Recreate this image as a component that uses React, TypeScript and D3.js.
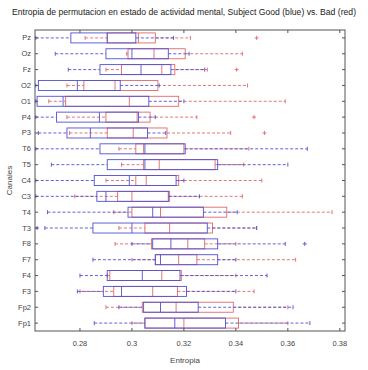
import React from "react";
import * as d3 from "d3";

const title =
  "Entropia de permutacion en estado de actividad mental, Subject Good (blue) vs. Bad (red)";

const channels = [
  "Pz", "Oz", "Fz", "O2", "O1", "P4", "P3", "T6", "T5", "C4",
  "C3", "T4", "T3", "F8", "F7", "F4", "F3", "Fp2", "Fp1",
];

// [lower whisker, q1, median, q3, upper whisker]
const blueStats = [
  [0.263, 0.2765, 0.2905, 0.3015, 0.316],
  [0.2705, 0.29, 0.3, 0.314, 0.322],
  [0.2755, 0.2877, 0.3035, 0.315, 0.328],
  [0.263, 0.264, 0.279, 0.2955, 0.3105],
  [0.263, 0.2635, 0.2735, 0.3065, 0.32],
  [0.263, 0.271, 0.2875, 0.3025, 0.309],
  [0.264, 0.275, 0.284, 0.306, 0.313],
  [0.263, 0.2877, 0.305, 0.3205, 0.3675],
  [0.269, 0.2905, 0.305, 0.333, 0.36],
  [0.263, 0.2855, 0.299, 0.317, 0.32],
  [0.263, 0.2865, 0.29, 0.314, 0.326],
  [0.2675, 0.2985, 0.308, 0.3275, 0.3405],
  [0.2665, 0.285, 0.3, 0.329, 0.348],
  [0.3, 0.308, 0.315, 0.333, 0.359],
  [0.285, 0.309, 0.311, 0.333, 0.34],
  [0.28, 0.2905, 0.304, 0.3185, 0.352],
  [0.279, 0.289, 0.296, 0.321, 0.34],
  [0.295, 0.3045, 0.311, 0.3255, 0.362],
  [0.2855, 0.305, 0.3165, 0.336, 0.3685],
];

const redStats = [
  [0.282, 0.2905, 0.3025, 0.309, 0.3225],
  [0.298, 0.2985, 0.3085, 0.3205, 0.3425],
  [0.29, 0.296, 0.3115, 0.3165, 0.329],
  [0.275, 0.2815, 0.2935, 0.31, 0.3445],
  [0.268, 0.2745, 0.299, 0.318, 0.359],
  [0.275, 0.29, 0.302, 0.307, 0.325],
  [0.276, 0.2905, 0.3005, 0.3135, 0.338],
  [0.295, 0.3015, 0.3045, 0.32, 0.345],
  [0.296, 0.3045, 0.3105, 0.332, 0.343],
  [0.29, 0.3015, 0.3055, 0.318, 0.35],
  [0.278, 0.2945, 0.3, 0.3145, 0.3425],
  [0.293, 0.3, 0.311, 0.3365, 0.377],
  [0.295, 0.305, 0.3145, 0.331, 0.348],
  [0.2935, 0.3075, 0.3215, 0.328, 0.34],
  [0.3, 0.309, 0.318, 0.325, 0.363],
  [0.2905, 0.2915, 0.3115, 0.319, 0.34],
  [0.28, 0.293, 0.308, 0.3175, 0.347],
  [0.29, 0.304, 0.317, 0.339, 0.36],
  [0.3, 0.305, 0.32, 0.341, 0.36],
];

const blueOutliers = [[], [], [], [], [], [], [], [], [], [], [], [], [0.2635], [0.3665], [], [], [], [], []];
const redOutliers = [[0.348], [], [0.3403], [], [], [0.347], [0.351], [], [], [], [], [], [], [], [], [], [], [], []];

const xTicks = [0.28, 0.3, 0.32, 0.34, 0.36, 0.38];

const W = 368;
const H = 370;
const left = 35;
const right = 345;
const top = 30;
const bottom = 331;
const font = "'Liberation Sans Narrow', 'Arial Narrow', 'Liberation Sans', Arial, sans-serif";

const xScale = d3.scaleLinear().domain([0.2627, 0.382]).range([left, right]);
const yScale = d3.scaleBand().domain(channels).range([top, bottom]);

function Box({ s, outs, y, color }) {
  const [lw, q1, med, q3, uw] = s;
  const x = xScale;
  const h = 5;
  return (
    <g stroke={color} fill="none" strokeWidth={0.9}>
      <line x1={x(lw)} x2={x(q1)} y1={y} y2={y} strokeDasharray="3,2" />
      <line x1={x(q3)} x2={x(uw)} y1={y} y2={y} strokeDasharray="3,2" />
      <line x1={x(lw)} x2={x(lw)} y1={y - 2} y2={y + 2} />
      <line x1={x(uw)} x2={x(uw)} y1={y - 2} y2={y + 2} />
      <rect x={x(q1)} y={y - h} width={x(q3) - x(q1)} height={2 * h} />
      <line x1={x(med)} x2={x(med)} y1={y - h} y2={y + h} />
      {outs.map((o, i) => (
        <g key={i}>
          <line x1={x(o) - 2} x2={x(o) + 2} y1={y} y2={y} />
          <line x1={x(o)} x2={x(o)} y1={y - 2} y2={y + 2} />
        </g>
      ))}
    </g>
  );
}

export default function App() {
  const fmt = (d) => (d === 0.3 ? "0.3" : d3.format(".2f")(d));
  return (
    <svg width={W} height={H} style={{ position: "absolute", left: 0, top: 0, background: "#fff" }}>
      <defs>
        <clipPath id="plot">
          <rect x={left} y={top} width={right - left} height={bottom - top} />
        </clipPath>
      </defs>
      <rect x={0} y={0} width={W} height={H} fill="#fff" />
      <text x={184} y={15} textAnchor="middle" fontFamily={font} fontSize={8.5} fill="#222"
        textLength={344} lengthAdjust="spacingAndGlyphs">
        {title}
      </text>
      <g clipPath="url(#plot)">
        {channels.map((c, i) => {
          const y = yScale(c) + yScale.bandwidth() / 2;
          return (
            <g key={c}>
              <Box s={redStats[i]} outs={redOutliers[i]} y={y} color="#e06868" />
              <Box s={blueStats[i]} outs={blueOutliers[i]} y={y} color="#5050d4" />
            </g>
          );
        })}
      </g>
      <rect x={left} y={top} width={right - left} height={bottom - top} fill="none" stroke="#555" strokeWidth={1} />
      {channels.map((c) => {
        const y = yScale(c) + yScale.bandwidth() / 2;
        return (
          <g key={c}>
            <line x1={left} x2={left + 3} y1={y} y2={y} stroke="#555" />
            <line x1={right - 3} x2={right} y1={y} y2={y} stroke="#555" />
            <text x={left - 4} y={y + 2.5} textAnchor="end" fontFamily={font} fontSize={7.5} fill="#444">
              {c}
            </text>
          </g>
        );
      })}
      {xTicks.map((t) => (
        <g key={t}>
          <line x1={xScale(t)} x2={xScale(t)} y1={bottom} y2={bottom - 3} stroke="#555" />
          <line x1={xScale(t)} x2={xScale(t)} y1={top} y2={top + 3} stroke="#555" />
          <text x={xScale(t)} y={346} textAnchor="middle" fontFamily={font} fontSize={7.5} fill="#444">
            {fmt(t)}
          </text>
        </g>
      ))}
      <text x={185} y={363} textAnchor="middle" fontFamily={font} fontSize={8} fill="#444">
        Entropia
      </text>
      <text transform={`translate(12,${(top + bottom) / 2}) rotate(-90)`} textAnchor="middle"
        fontFamily={font} fontSize={8} fill="#444">
        Canales
      </text>
    </svg>
  );
}
